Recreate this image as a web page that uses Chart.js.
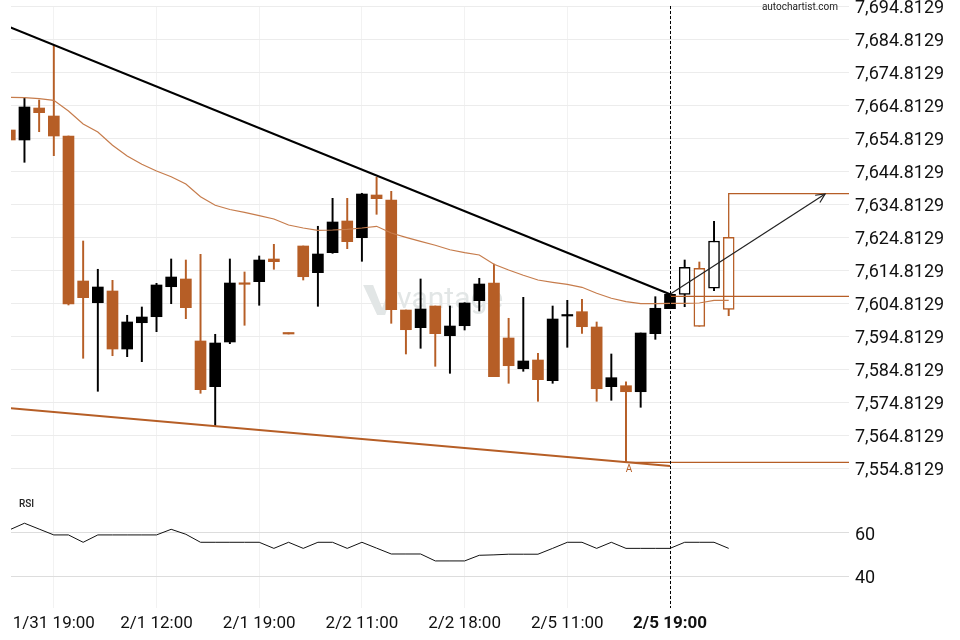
<!DOCTYPE html>
<html>
<head>
<meta charset="utf-8">
<script src="https://cdn.jsdelivr.net/npm/chart.js@4"></script>
<style>
  html, body { margin: 0; padding: 0; background: #fff; }
</style>
</head>
<body>
<canvas id="chart" width="960" height="640"></canvas>
<script>
// Candle data, one entry per bar (index 0 = first visible bar)
const OPEN = [7657.34, 7654.31, 7664.00, 7661.58, 7655.52, 7611.58, 7605.00, 7608.55, 7590.97, 7598.94,
  7600.76, 7609.85, 7612.19, 7593.40, 7579.55, 7593.10, 7610.88, 7611.37, 7618.25, 7595.82,
  7622.19, 7614.10, 7620.16, 7629.76, 7624.70, 7637.64, 7636.13, 7602.79, 7597.43, 7604.00,
  7595.00, 7598.03, 7605.61, 7610.97, 7594.31, 7585.00, 7587.64, 7581.37, 7600.97, 7602.28,
  7597.64, 7579.55, 7579.85, 7578.03, 7595.61, 7603.19, 7607.55, 7615.43, 7609.37, 7624.82];
const HIGH = [7658.25, 7667.12, 7666.43, 7682.88, 7655.52, 7623.70, 7615.13, 7611.79, 7601.19, 7603.70,
  7610.88, 7618.25, 7617.94, 7619.67, 7595.43, 7618.25, 7614.31, 7619.16, 7622.70, 7595.82,
  7622.19, 7628.16, 7636.64, 7636.64, 7638.16, 7643.00, 7638.76, 7602.79, 7612.19, 7604.00,
  7604.00, 7605.00, 7612.40, 7616.73, 7600.28, 7606.64, 7589.67, 7604.00, 7605.73, 7606.03,
  7599.16, 7589.46, 7581.06, 7595.82, 7606.82, 7607.55, 7617.94, 7617.34, 7629.67, 7624.82];
const LOW = [7653.70, 7647.55, 7656.82, 7649.55, 7604.31, 7588.16, 7578.16, 7588.94, 7588.64, 7587.13,
  7596.22, 7604.70, 7600.16, 7577.55, 7567.64, 7592.58, 7598.16, 7604.22, 7615.13, 7595.52,
  7611.88, 7603.91, 7619.97, 7621.37, 7617.55, 7631.79, 7598.76, 7589.46, 7591.19, 7585.73,
  7583.61, 7596.73, 7602.49, 7582.58, 7580.58, 7584.22, 7575.13, 7580.58, 7591.49, 7595.73,
  7575.13, 7575.43, 7556.52, 7573.31, 7593.91, 7603.19, 7603.79, 7597.85, 7608.64, 7601.06];
const CLOSE = [7654.31, 7664.31, 7662.58, 7655.52, 7604.61, 7606.52, 7609.76, 7590.97, 7599.16, 7600.67,
  7610.37, 7612.79, 7603.49, 7578.64, 7592.79, 7610.97, 7610.58, 7617.94, 7617.43, 7595.52,
  7612.88, 7619.76, 7629.46, 7623.49, 7637.94, 7636.52, 7602.88, 7596.82, 7603.10, 7595.61,
  7597.94, 7604.91, 7610.67, 7582.58, 7585.91, 7587.34, 7581.67, 7600.06, 7601.27, 7597.73,
  7578.94, 7582.28, 7578.03, 7595.82, 7603.31, 7607.55, 7615.73, 7597.85, 7623.70, 7603.00];

// moving average overlay
const MA = [7667.25, 7667.13, 7666.82, 7666.34, 7663.09, 7659.15, 7656.73, 7652.70, 7649.46, 7646.94,
  7644.91, 7643.19, 7640.97, 7637.13, 7634.52, 7633.25, 7632.40, 7631.37, 7630.37, 7628.55,
  7627.64, 7626.94, 7627.03, 7627.25, 7627.64, 7628.16, 7626.13, 7624.82, 7623.61, 7622.40,
  7621.06, 7620.16, 7619.46, 7616.64, 7614.91, 7613.31, 7611.88, 7611.19, 7610.58, 7609.67,
  7607.85, 7606.34, 7605.31, 7604.70, 7604.70, 7604.82, 7604.82, 7604.91, 7605.73, 7605.73];

// RSI pane
const RSI = [61.5, 64.5, 61.8, 59.1, 59.1, 55.7, 59.1, 59.1, 59.1, 59.1,
  59.1, 61.7, 59.4, 55.7, 55.7, 55.7, 55.7, 55.7, 52.9, 55.7,
  52.9, 55.7, 55.7, 52.9, 55.7, 53.0, 50.3, 50.3, 50.3, 47.1,
  47.1, 47.1, 49.7, 49.9, 50.2, 50.2, 50.2, 52.9, 55.7, 55.7,
  52.9, 55.7, 52.9, 52.9, 52.9, 52.9, 55.7, 55.7, 55.7, 52.9];

const NOW_INDEX = 45;        // dashed "now" line, bars after it are forecast
const X_TICKS = [3, 10, 17, 24, 31, 38, 45];
const X_LABELS = ['1/31 19:00', '2/1 12:00', '2/1 19:00', '2/2 11:00', '2/2 18:00', '2/5 11:00', '2/5 19:00'];
const X_RANGE = [0.082, 57.2];

const PRICE_TICKS = [7554.8129, 7564.8129, 7574.8129, 7584.8129, 7594.8129, 7604.8129, 7614.8129,
  7624.8129, 7634.8129, 7644.8129, 7654.8129, 7664.8129, 7674.8129, 7684.8129, 7694.8129];
const PRICE_RANGE = [7548.246, 7694.9129];
const RSI_TICKS = [40, 60];
const RSI_RANGE = [25.37, 79.84];

// pattern lines [index, price]
const RESISTANCE = [[0, 7688.49], [45, 7607.55]];
const SUPPORT = [[0, 7573.03], [45, 7555.52]];
const BREAKOUT_LEVEL = 7606.94;
const LOW_LEVEL = 7556.64;
const LOW_INDEX = 42;
const TARGET_INDEX = 49;
const TARGET_LEVEL = 7638.03;
const FORECAST_ARROW = [[45, 7607.55], [55.57, 7637.94]];

const BULL = '#000000';
const BEAR = '#B65E26';
const MA_COLOR = '#C67C4C';

Chart.defaults.font.family = 'Roboto';

const idx = OPEN.map(function (_, i) { return i; });
function candleColor(i) { return CLOSE[i] >= OPEN[i] ? BULL : BEAR; }
function isForecast(i) { return i > NOW_INDEX; }
function pts(list) { return list.map(function (p) { return { x: p[0], y: p[1] }; }); }

const overlays = {
  id: 'overlays',
  beforeDatasetsDraw(chart) {
    // faint broker watermark
    const { ctx, scales: { x, y } } = chart;
    const wx = x.getPixelForValue(26.4), wy = y.getPixelForValue(7605.8);
    ctx.save();
    ctx.fillStyle = '#e2e6e6';
    ctx.beginPath();
    ctx.moveTo(wx - 34, wy - 15);
    ctx.lineTo(wx - 24, wy - 15);
    ctx.lineTo(wx - 15, wy + 8);
    ctx.lineTo(wx - 6, wy - 15);
    ctx.lineTo(wx - 2, wy - 15);
    ctx.lineTo(wx - 12, wy + 15);
    ctx.lineTo(wx - 20, wy + 15);
    ctx.closePath();
    ctx.fill();
    ctx.font = '30px Roboto';
    ctx.textAlign = 'left';
    ctx.textBaseline = 'middle';
    ctx.fillText('vantage', wx, wy);
    ctx.restore();
  },
  afterDatasetsDraw(chart) {
    const { ctx, chartArea, scales: { x, y, rsi } } = chart;
    ctx.save();

    // dashed current-bar line through both panes
    const xNow = Math.round(x.getPixelForValue(NOW_INDEX)) + 0.5;
    ctx.strokeStyle = '#000';
    ctx.lineWidth = 1;
    ctx.setLineDash([3, 2]);
    ctx.beginPath();
    ctx.moveTo(xNow, chartArea.top);
    ctx.lineTo(xNow, chartArea.bottom);
    ctx.stroke();
    ctx.setLineDash([]);

    // open arrow head on the forecast line
    const a = FORECAST_ARROW[0], b = FORECAST_ARROW[1];
    const x0 = x.getPixelForValue(a[0]), y0 = y.getPixelForValue(a[1]);
    const x1 = x.getPixelForValue(b[0]), y1 = y.getPixelForValue(b[1]);
    const ang = Math.atan2(y1 - y0, x1 - x0);
    ctx.strokeStyle = '#222';
    ctx.lineWidth = 1.2;
    ctx.beginPath();
    ctx.moveTo(x1 - 10 * Math.cos(ang - 0.45), y1 - 10 * Math.sin(ang - 0.45));
    ctx.lineTo(x1, y1);
    ctx.lineTo(x1 - 10 * Math.cos(ang + 0.45), y1 - 10 * Math.sin(ang + 0.45));
    ctx.stroke();

    // "A" point label
    ctx.fillStyle = BEAR;
    ctx.font = '10px Roboto';
    ctx.textAlign = 'center';
    ctx.textBaseline = 'middle';
    ctx.fillText('A', x.getPixelForValue(LOW_INDEX) + 3, y.getPixelForValue(LOW[LOW_INDEX]) + 7);

    // pane captions
    ctx.fillStyle = '#222';
    ctx.font = '500 10px Roboto';
    ctx.textAlign = 'left';
    ctx.fillText('RSI', chartArea.left + 8, rsi.top + 14);
    ctx.font = '10px Roboto';
    ctx.textAlign = 'right';
    ctx.fillText('autochartist.com', chartArea.right - 11, chartArea.top + 1);
    ctx.restore();
  }
};

function lineSet(data, color, width, axis) {
  return {
    type: 'line', data: data, yAxisID: axis || 'y',
    borderColor: color, borderWidth: width, pointRadius: 0, tension: 0, order: 2,
  };
}

new Chart(document.getElementById('chart'), {
  type: 'bar',
  data: {
    datasets: [
      {
        label: 'wicks',
        data: idx.map(function (i) { return { x: i, y: [LOW[i], HIGH[i]] }; }),
        backgroundColor: idx.map(candleColor),
        barThickness: 1.3, grouped: false, order: 20, yAxisID: 'y',
      },
      {
        label: 'bodies',
        data: idx.map(function (i) { return { x: i, y: [OPEN[i], CLOSE[i]] }; }),
        backgroundColor: idx.map(function (i) { return isForecast(i) ? '#ffffff' : candleColor(i); }),
        borderColor: idx.map(candleColor),
        borderWidth: idx.map(function (i) { return isForecast(i) ? 1.5 : 0; }),
        borderSkipped: false, minBarLength: 1.5,
        barThickness: 11, grouped: false, order: 10, yAxisID: 'y',
      },
      Object.assign(lineSet(idx.map(function (i) { return { x: i, y: MA[i] }; }), MA_COLOR, 1.2), { order: 5 }),
      lineSet(pts(RESISTANCE), '#000', 2.2),
      lineSet(pts(SUPPORT), BEAR, 2),
      lineSet(pts([[NOW_INDEX, BREAKOUT_LEVEL], [X_RANGE[1], BREAKOUT_LEVEL]]), BEAR, 1.3),
      lineSet(pts([[LOW_INDEX, LOW_LEVEL], [X_RANGE[1], LOW_LEVEL]]), BEAR, 1.3),
      lineSet(pts([[TARGET_INDEX, OPEN[TARGET_INDEX]], [TARGET_INDEX, TARGET_LEVEL], [X_RANGE[1], TARGET_LEVEL]]), BEAR, 1.3),
      lineSet(pts(FORECAST_ARROW), '#222', 1.2),
      lineSet(idx.map(function (i) { return { x: i, y: RSI[i] }; }), '#111', 1, 'rsi'),
    ],
  },
  options: {
    responsive: false,
    animation: false,
    events: [],
    layout: { padding: { top: 6, left: 11, right: 0, bottom: 0 } },
    plugins: { legend: { display: false }, tooltip: { enabled: false } },
    scales: {
      x: {
        type: 'linear', min: X_RANGE[0], max: X_RANGE[1], offset: false,
        grid: { color: '#f2f2f2', drawTicks: false, offset: false },
        border: { display: false },
        afterBuildTicks: function (axis) { axis.ticks = X_TICKS.map(function (v) { return { value: v }; }); },
        afterFit: function (axis) { axis.height = 32; axis.paddingLeft = 0; axis.paddingRight = 0; },
        ticks: {
          autoSkip: false, maxRotation: 0, padding: 6, color: '#111',
          font: function (c) { return { size: 17, weight: c.tick && c.tick.value === NOW_INDEX ? 'bold' : 'normal' }; },
          callback: function (v, i) { return X_LABELS[i]; },
        },
      },
      y: {
        type: 'linear', position: 'right', stack: 'panes', stackWeight: 484,
        min: PRICE_RANGE[0], max: PRICE_RANGE[1],
        grid: { color: '#ececec', drawTicks: false },
        border: { display: false },
        afterBuildTicks: function (axis) { axis.ticks = PRICE_TICKS.map(function (v) { return { value: v }; }); },
        afterFit: function (axis) { axis.width = 111; axis.paddingTop = 0; axis.paddingBottom = 0; },
        ticks: {
          autoSkip: false, padding: 6, labelOffset: 2.5, color: '#111', font: { size: 18 },
          callback: function (v) { return v.toLocaleString('en-US', { minimumFractionDigits: 4, maximumFractionDigits: 4 }); },
        },
      },
      rsi: {
        type: 'linear', position: 'right', stack: 'panes', stackWeight: 118,
        min: RSI_RANGE[0], max: RSI_RANGE[1],
        grid: { color: '#dddddd', drawTicks: false },
        border: { display: false },
        afterBuildTicks: function (axis) { axis.ticks = RSI_TICKS.map(function (v) { return { value: v }; }); },
        afterFit: function (axis) { axis.width = 111; axis.paddingTop = 0; axis.paddingBottom = 0; },
        ticks: { autoSkip: false, padding: 6, labelOffset: 2.5, color: '#111', font: { size: 18 } },
      },
    },
  },
  plugins: [overlays],
});
</script>
</body>
</html>
